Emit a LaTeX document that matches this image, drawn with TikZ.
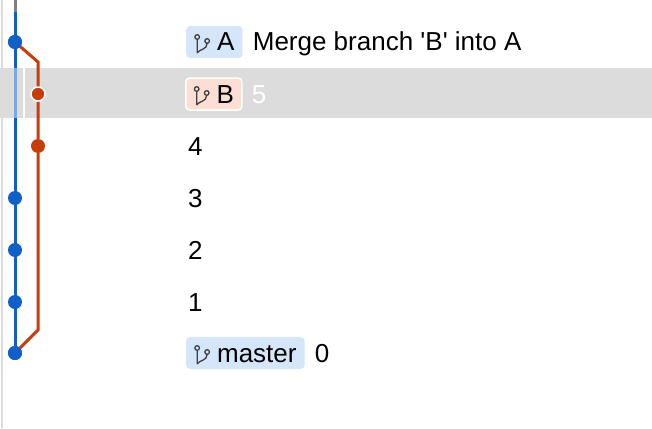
\documentclass[tikz,border=0pt]{standalone}
\usepackage{fontspec}
\newfontfamily\uifont{Liberation Sans}
\usetikzlibrary{positioning}
\definecolor{gitblue}{RGB}{16,96,200}
\definecolor{gitred}{RGB}{200,60,10}
\definecolor{bluebadge}{RGB}{214,230,250}
\definecolor{redbadge}{RGB}{252,222,212}
\definecolor{rowgray}{RGB}{220,220,220}
\tikzset{
  commit/.style={circle,inner sep=0pt,minimum size=14pt},
  badge/.style={rounded corners=4pt,minimum height=32pt,inner xsep=8pt,
    font=\uifont\fontsize{26}{29}\selectfont,text height=18pt,text depth=0pt},
  msg/.style={anchor=west,inner sep=0pt,font=\uifont\fontsize{26}{29}\selectfont,text height=18pt,text depth=0pt},
  brico/.pic={
    \draw[line width=1.3pt,black!75] (-5,-8) circle (2.3pt) (5,-4) circle (2.3pt)
      (-5,-5.7) -- (-5,8) (5,-1.7) .. controls (5,5) and (-3,4) .. (-5,8);
  }
}
\newcommand{\brtext}[1]{\tikz[baseline=-6pt,x=1pt,y=-1pt]\pic{brico};\hspace{7pt}#1}
\begin{document}
\begin{tikzpicture}[x=1pt,y=-1pt]
\useasboundingbox (0,0) rectangle (652,428);
\fill[rowgray] (0,68) rectangle (652,118);
\draw[rowgray,line width=2pt] (2,0) -- (2,428);
% branch lines
\draw[gray,line width=3pt] (15,0) -- (15,12);
\draw[gitblue,line width=3pt] (15,12) -- (15,68) (15,118) -- (15,353);
\draw[gitblue!55,line width=3pt] (15,68) -- (15,118);
\draw[white,line width=2pt] (24,68) -- (24,118);
% commits
\node[commit,fill=gitblue] (cA) at (15,42) {};
\node[commit,fill=gitred,draw=white,line width=1.5pt] (c5) at (38,94) {};
\node[commit,fill=gitred] (c4) at (38,146) {};
\node[commit,fill=gitblue] (c3) at (15,198) {};
\node[commit,fill=gitblue] (c2) at (15,250) {};
\node[commit,fill=gitblue] (c1) at (15,302) {};
\node[commit,fill=gitblue] (c0) at (15,353) {};
\coordinate (bt) at (38,62);
\coordinate (bb) at (38,330);
\draw[gitred,line width=3pt] (cA.center) -- (bt) -- (c5) (c5) -- (c4) -- (bb) -- (c0.center);
\node[commit,fill=gitblue] at (cA) {};
\node[commit,fill=gitblue] at (c0) {};
% labels
\node[badge,fill=bluebadge,anchor=west] (bA) at (186,42) {\brtext{A}};
\node[msg,right=10pt of bA] (mA) {Merge branch 'B' into A};
\node[badge,fill=redbadge,draw=white,line width=1.5pt,anchor=west] (bB) at (185,94) {\brtext{B}};
\node[msg,white,right=9pt of bB] (m5) {5};
\node[msg] (m4) at (188,146) {4};
\node[msg] (m3) at (188,198) {3};
\node[msg] (m2) at (188,250) {2};
\node[msg] (m1) at (188,302) {1};
\node[badge,fill=bluebadge,anchor=west] (bM) at (186,353) {\brtext{master}};
\node[msg,right=10pt of bM] (m0) {0};
\end{tikzpicture}
\end{document}
